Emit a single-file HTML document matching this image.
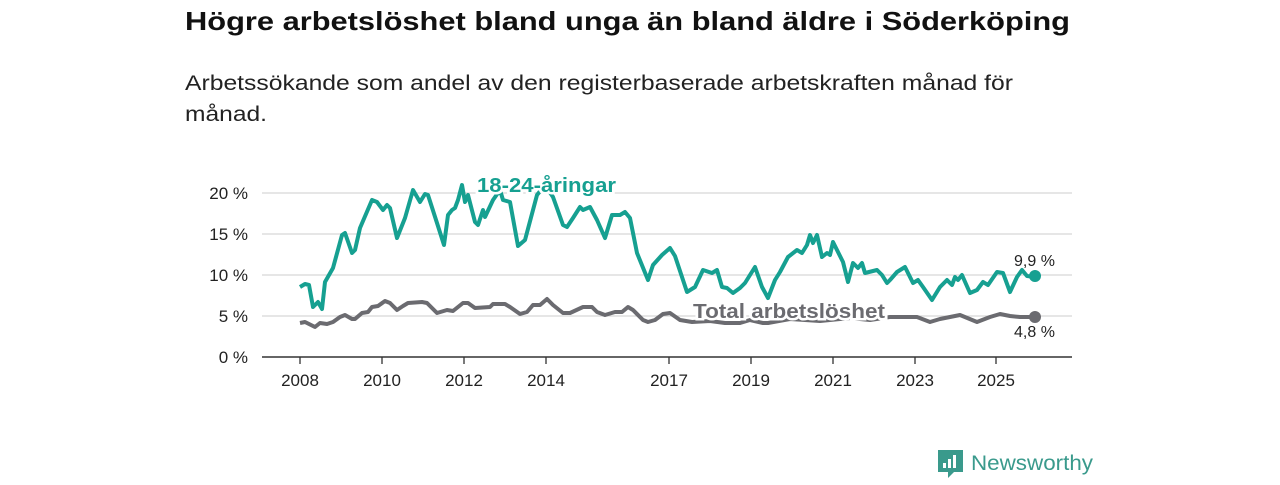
<!DOCTYPE html>
<html><head><meta charset="utf-8"><style>
body{margin:0;background:#fff;width:1280px;height:480px;overflow:hidden}
text{font-family:"Liberation Sans","DejaVu Sans",sans-serif}
</style></head><body>
<svg width="1280" height="480" viewBox="0 0 1280 480" xmlns="http://www.w3.org/2000/svg">
<text x="185" y="30" font-size="26" font-weight="bold" fill="#111" textLength="885" lengthAdjust="spacingAndGlyphs">Högre arbetslöshet bland unga än bland äldre i Söderköping</text>
<text x="185" y="90" font-size="21" fill="#222" textLength="828" lengthAdjust="spacingAndGlyphs">Arbetssökande som andel av den registerbaserade arbetskraften månad för</text>
<text x="185" y="121" font-size="21" fill="#222" textLength="82" lengthAdjust="spacingAndGlyphs">månad.</text>
<g stroke="#d6d6d6" stroke-width="1.3">
<line x1="262" x2="1072" y1="193" y2="193"/><line x1="262" x2="1072" y1="234" y2="234"/><line x1="262" x2="1072" y1="275" y2="275"/><line x1="262" x2="1072" y1="316" y2="316"/>
</g>
<line x1="262" x2="1072" y1="357" y2="357" stroke="#333" stroke-width="1.5"/>
<g stroke="#333" stroke-width="1.3">
<line x1="300" x2="300" y1="357" y2="364"/><line x1="382" x2="382" y1="357" y2="364"/><line x1="464" x2="464" y1="357" y2="364"/><line x1="546" x2="546" y1="357" y2="364"/><line x1="669" x2="669" y1="357" y2="364"/><line x1="751" x2="751" y1="357" y2="364"/><line x1="833" x2="833" y1="357" y2="364"/><line x1="915" x2="915" y1="357" y2="364"/><line x1="996" x2="996" y1="357" y2="364"/>
</g>
<g font-size="17" fill="#222" text-anchor="end">
<text x="248" y="199">20 %</text><text x="248" y="240">15 %</text><text x="248" y="281">10 %</text><text x="248" y="322">5 %</text><text x="248" y="363">0 %</text>
</g>
<g font-size="17" fill="#222" text-anchor="middle">
<text x="300" y="386">2008</text><text x="382" y="386">2010</text><text x="464" y="386">2012</text><text x="546" y="386">2014</text><text x="669" y="386">2017</text><text x="751" y="386">2019</text><text x="833" y="386">2021</text><text x="915" y="386">2023</text><text x="996" y="386">2025</text>
</g>
<polyline fill="none" stroke="#6b6b70" stroke-width="4" stroke-linejoin="round" points="300,323 305,322 315,327 320,323 327,324 333,322 340,317 345,315 352,319 355,319 362,313 368,312 372,307 378,306 385,301 390,303 397,310 403,306 408,303 422,302 427,303 437,313 447,310 453,311 463,303 468,303 475,308 490,307 493,304 505,304 510,307 520,314 527,312 533,305 540,305 547,299 553,305 563,313 570,313 583,307 592,307 597,312 605,315 615,312 622,312 628,307 633,310 643,320 648,322 655,320 663,314 670,313 680,320 692,322 710,321 725,323 740,323 750,320 763,323 768,323 790,319 820,321 850,318 870,320 890,317 917,317 930,322 940,319 960,315 977,322 990,317 1000,314 1010,316 1020,317 1035,317"/>
<polyline fill="none" stroke="#16a091" stroke-width="4" stroke-linejoin="round" points="300,287 305,284 309,285 313,307 318,302 322,309 325,282 333,268 342,235 345,233 352,253 355,250 360,228 372,200 377,202 383,210 387,205 390,208 397,238 405,218 413,190 420,202 425,194 428,195 437,223 444,245 448,215 452,210 455,208 458,200 462,185 465,202 468,195 475,222 478,225 483,210 485,217 493,200 500,190 503,200 510,202 518,246 525,240 537,195 545,185 553,197 563,225 567,227 573,218 580,207 583,210 590,207 597,220 605,238 612,215 620,215 625,212 630,218 637,253 648,280 653,265 662,255 670,248 675,256 687,292 695,287 703,270 712,273 717,270 722,287 727,288 733,293 740,288 745,283 755,267 762,287 768,298 775,280 780,272 788,257 797,250 802,253 807,245 810,235 813,243 817,235 822,257 827,253 830,255 833,242 843,262 848,282 853,263 858,268 862,263 865,273 877,270 882,275 887,283 890,280 897,272 905,267 913,283 918,280 923,287 932,300 940,287 947,280 952,285 955,277 958,280 962,275 970,293 977,290 983,282 988,285 997,272 1003,273 1010,292 1017,277 1022,270 1027,276 1035,277"/>
<circle cx="1035" cy="276" r="6" fill="#16a091"/>
<circle cx="1035" cy="317" r="6" fill="#6b6b70"/>
<text x="477" y="192" font-size="20" font-weight="bold" fill="#16a091" stroke="#fff" stroke-width="5" paint-order="stroke" textLength="139" lengthAdjust="spacingAndGlyphs">18-24-åringar</text>
<text x="693" y="318" font-size="20" font-weight="bold" fill="#6b6b70" stroke="#fff" stroke-width="5" paint-order="stroke" textLength="192" lengthAdjust="spacingAndGlyphs">Total arbetslöshet</text>
<text x="1014" y="266" font-size="16" fill="#222">9,9 %</text>
<text x="1014" y="337" font-size="16" fill="#222">4,8 %</text>
<g>
<path d="M938,450 h25 v22 h-9 l-6,6 v-6 h-10 z" fill="#3a9a8c"/>
<rect x="943" y="463" width="3" height="5" fill="#fff"/><rect x="948" y="459" width="3" height="9" fill="#fff"/><rect x="953" y="455" width="3" height="13" fill="#fff"/>
<text x="971" y="470" font-size="21" fill="#3a9a8c" textLength="122" lengthAdjust="spacingAndGlyphs">Newsworthy</text>
</g>
</svg>
</body></html>
